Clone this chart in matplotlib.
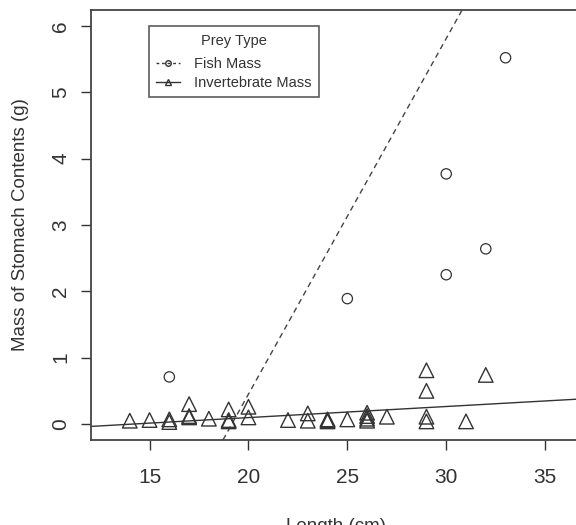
import matplotlib.pyplot as plt
from matplotlib.lines import Line2D

plt.rcParams['font.family'] = ['Liberation Sans', 'DejaVu Sans']

# fish prey mass (g) by fish length (cm)
fish_len = [16, 25, 30, 30, 32, 33]
fish_mass = [0.71, 1.89, 3.77, 2.25, 2.64, 5.52]

# invertebrate prey mass (g) by fish length (cm)
inv_len = [14, 15, 16, 16, 17, 17, 17, 18, 19, 19, 19, 20, 20,
           22, 23, 23, 24, 24, 24, 25, 26, 26, 26, 26, 27,
           29, 29, 29, 29, 31, 32]
inv_mass = [0.05, 0.06, 0.07, 0.03, 0.30, 0.10, 0.12, 0.08, 0.22, 0.06, 0.04, 0.26, 0.10,
            0.06, 0.16, 0.05, 0.06, 0.04, 0.07, 0.07, 0.17, 0.12, 0.08, 0.05, 0.11,
            0.81, 0.50, 0.11, 0.04, 0.04, 0.74]

# fitted lines (intercept, slope)
fish_fit = (-10.27, 0.536)
inv_fit = (-0.237, 0.0167)

line_col = '#333333'

fig = plt.figure(figsize=(5.76, 5.25), dpi=100)
ax = fig.add_axes([0.158, 0.162, 0.890, 0.819])

ax.scatter(fish_len, fish_mass, marker='o', s=55, facecolors='none',
           edgecolors=line_col, linewidths=0.9, zorder=3)
ax.scatter(inv_len, inv_mass, marker='^', s=110, facecolors='none',
           edgecolors=line_col, linewidths=1.0, zorder=3)

ax.axline((0, fish_fit[0]), slope=fish_fit[1], color='#444444', lw=1.0,
          linestyle=(0, (4, 3)))
ax.axline((0, inv_fit[0]), slope=inv_fit[1], color=line_col, lw=1.0)

ax.set_xlim(12.04, 37.96)
ax.set_ylim(-0.24, 6.24)
ax.set_xticks([15, 20, 25, 30, 35])
ax.set_yticks([0, 1, 2, 3, 4, 5, 6])
ax.tick_params(direction='out', length=7, width=1, labelsize=15, colors='#333333')
ax.tick_params(axis='x', pad=13)
ax.tick_params(axis='y', pad=8)
for lab in ax.get_yticklabels():
    lab.set_rotation(90)
    lab.set_va('center')
for sp in ax.spines.values():
    sp.set_color('#444444')
    sp.set_linewidth(1.3)

ax.set_ylabel('Mass of Stomach Contents (g)', fontsize=13.5, color='#333333', labelpad=16)
fig.text(336 / 576, 1 - 518 / 525, 'Length (cm)', fontsize=13.5, color='#333333',
         ha='center', va='top')

handles = [
    Line2D([], [], color=line_col, lw=1.0, linestyle=(0, (2, 2)), marker='o',
           markersize=4, markerfacecolor='none'),
    Line2D([], [], color=line_col, lw=1.0, marker='^', markersize=5,
           markerfacecolor='none'),
]
leg = ax.legend(handles, ['Fish Mass', 'Invertebrate Mass'], title='Prey Type',
                loc='upper left', bbox_to_anchor=(0.113, 0.962), fontsize=10.5,
                title_fontsize=10.5, frameon=True, fancybox=False, handlelength=1.6,
                handletextpad=1.0, borderpad=0.5, labelspacing=0.3, borderaxespad=0)
leg._legend_box.sep = 7
leg.get_frame().set_edgecolor('#333333')
leg.get_frame().set_linewidth(1.2)
for t in leg.get_texts():
    t.set_color('#333333')
leg.get_title().set_color('#333333')

fig.savefig('out.png', dpi=100)
